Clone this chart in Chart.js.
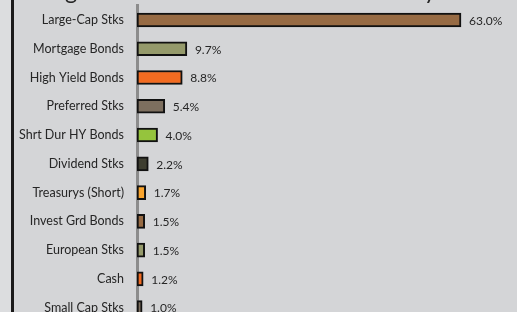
<!DOCTYPE html>
<html>
<head>
<meta charset="utf-8">
<script src="https://cdn.jsdelivr.net/npm/chart.js"></script>
<style>
  html, body { margin: 0; padding: 0; background: #dcdddf; overflow: hidden; }
  #wrap { position: absolute; left: 0; top: -50px; width: 517px; height: 400px; }
</style>
</head>
<body>
<div id="wrap"><canvas id="chart" width="517" height="400"></canvas></div>
<script>
const categories = [
    'Large-Cap Stks', 'Mortgage Bonds', 'High Yield Bonds', 'Preferred Stks',
    'Shrt Dur HY Bonds', 'Dividend Stks', 'Treasurys (Short)', 'Invest Grd Bonds',
    'European Stks', 'Cash', 'Small Cap Stks'
];
const weights = [63.0, 9.7, 8.8, 5.4, 4.0, 2.2, 1.7, 1.5, 1.5, 1.2, 1.0];
const barColors = [
    '#976b44', '#959a6b', '#f26b21', '#7d6f5f', '#95c43d', '#3e3e30',
    '#f9a42d', '#976b44', '#959a6b', '#f26b21', '#7d6f5f'
];
const titleText = 'Largest Asset Class Allocations Held by the Fund';

const FONT = 'Lato, "Open Sans", sans-serif';

// background, left frame edge and the (mostly cropped) title
const frame = {
    id: 'frame',
    beforeDraw(chart) {
        const {ctx, width, height} = chart;
        ctx.save();
        ctx.fillStyle = '#d4d5d7';
        ctx.fillRect(11, 0, width - 11, height);
        ctx.fillStyle = '#1a1a1a';
        ctx.fillRect(11, 0, 3, height);
        ctx.font = '23.5px ' + FONT;
        ctx.fillStyle = '#262626';
        ctx.textAlign = 'left';
        ctx.textBaseline = 'alphabetic';
        ctx.fillText(titleText, 33, 49);
        ctx.restore();
    }
};

const valueLabels = {
    id: 'valueLabels',
    afterDatasetsDraw(chart) {
        const {ctx} = chart;
        const meta = chart.getDatasetMeta(0);
        ctx.save();
        ctx.font = '12px ' + FONT;
        ctx.fillStyle = '#262626';
        ctx.textAlign = 'left';
        ctx.textBaseline = 'middle';
        meta.data.forEach((bar, i) => {
            ctx.fillText(weights[i].toFixed(1) + '%', bar.x + 8, bar.y + 1);
        });
        ctx.restore();
    }
};

new Chart(document.getElementById('chart'), {
    type: 'bar',
    data: {
        labels: categories,
        datasets: [{
            data: weights,
            backgroundColor: barColors,
            borderColor: '#111',
            borderWidth: 2,
            borderSkipped: false,
            barThickness: 14
        }]
    },
    options: {
        indexAxis: 'y',
        responsive: false,
        animation: false,
        layout: { padding: { left: 12, right: 20, top: 55.6, bottom: 28 } },
        plugins: {
            legend: { display: false },
            tooltip: { enabled: false },
            title: { display: false }
        },
        scales: {
            x: { display: false, min: 0, max: 70 },
            y: {
                afterFit: s => { s.width = 125; },
                grid: { display: false, drawTicks: false },
                border: { display: true, color: '#8c8c8c', width: 3 },
                ticks: {
                    color: '#262626',
                    padding: 13,
                    font: { family: FONT, size: 12.5 }
                }
            }
        }
    },
    plugins: [frame, valueLabels]
});
</script>
</body>
</html>
